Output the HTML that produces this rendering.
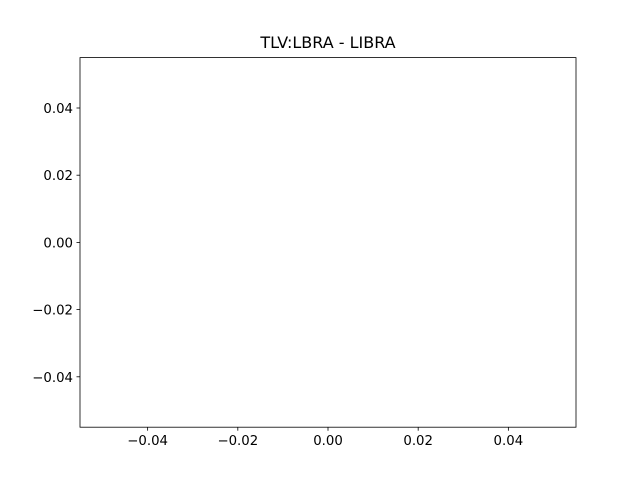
<!DOCTYPE html>
<html><head><meta charset="utf-8"><style>
html,body{margin:0;padding:0;background:#fff;}
svg text{font-family:"DejaVu Sans","Liberation Sans",sans-serif;font-size:13.3px;fill:#000;}
</style></head><body>
<svg id="chart" width="640" height="480" xmlns="http://www.w3.org/2000/svg">
<rect width="640" height="480" fill="#fff"/>
<text x="328" y="48" text-anchor="middle" style="font-size:16px">TLV:LBRA - LIBRA</text>
<g id="ticks"></g>
<rect x="80" y="57.6" width="496" height="369.6" fill="none" stroke="#000" stroke-width="0.8"/>
</svg>
<script>
const xTicks = [-0.04, -0.02, 0.00, 0.02, 0.04];
const yTicks = [-0.04, -0.02, 0.00, 0.02, 0.04];
const xDomain = [-0.055, 0.055];
const yDomain = [-0.055, 0.055];
const L=80,R=576,T=57.6,B=427.2;
function sx(v){return L+(v-xDomain[0])/(xDomain[1]-xDomain[0])*(R-L);}
function sy(v){return B-(v-yDomain[0])/(yDomain[1]-yDomain[0])*(B-T);}
function fmt(v){const s=Math.abs(v).toFixed(2);return (v<0?'\u22120':'0').slice(0,v<0?1:0)+(v<0?s:s);}
const g=document.getElementById('ticks');
const NS='http://www.w3.org/2000/svg';
xTicks.forEach(v=>{
  const x=sx(v);
  const l=document.createElementNS(NS,'line');
  l.setAttribute('x1',x);l.setAttribute('x2',x);l.setAttribute('y1',B);l.setAttribute('y2',B+3.5);
  l.setAttribute('stroke','#000');l.setAttribute('stroke-width','0.8');
  
  
  g.appendChild(l);
  const t=document.createElementNS(NS,'text');
  t.setAttribute('x',x);t.setAttribute('y',B+18);t.setAttribute('text-anchor','middle');
  t.textContent=(v<0?'\u2212':'')+Math.abs(v).toFixed(2);
  
  
  g.appendChild(t);
});
yTicks.forEach(v=>{
  const y=sy(v);
  const l=document.createElementNS(NS,'line');
  l.setAttribute('x1',L-3.5);l.setAttribute('x2',L);l.setAttribute('y1',y);l.setAttribute('y2',y);
  l.setAttribute('stroke','#000');l.setAttribute('stroke-width','0.8');
  
  
  g.appendChild(l);
  const t=document.createElementNS(NS,'text');
  t.setAttribute('x',L-7);t.setAttribute('y',y+5);t.setAttribute('text-anchor','end');
  t.textContent=(v<0?'\u2212':'')+Math.abs(v).toFixed(2);
  
  
  g.appendChild(t);
});
</script>
</body></html>
